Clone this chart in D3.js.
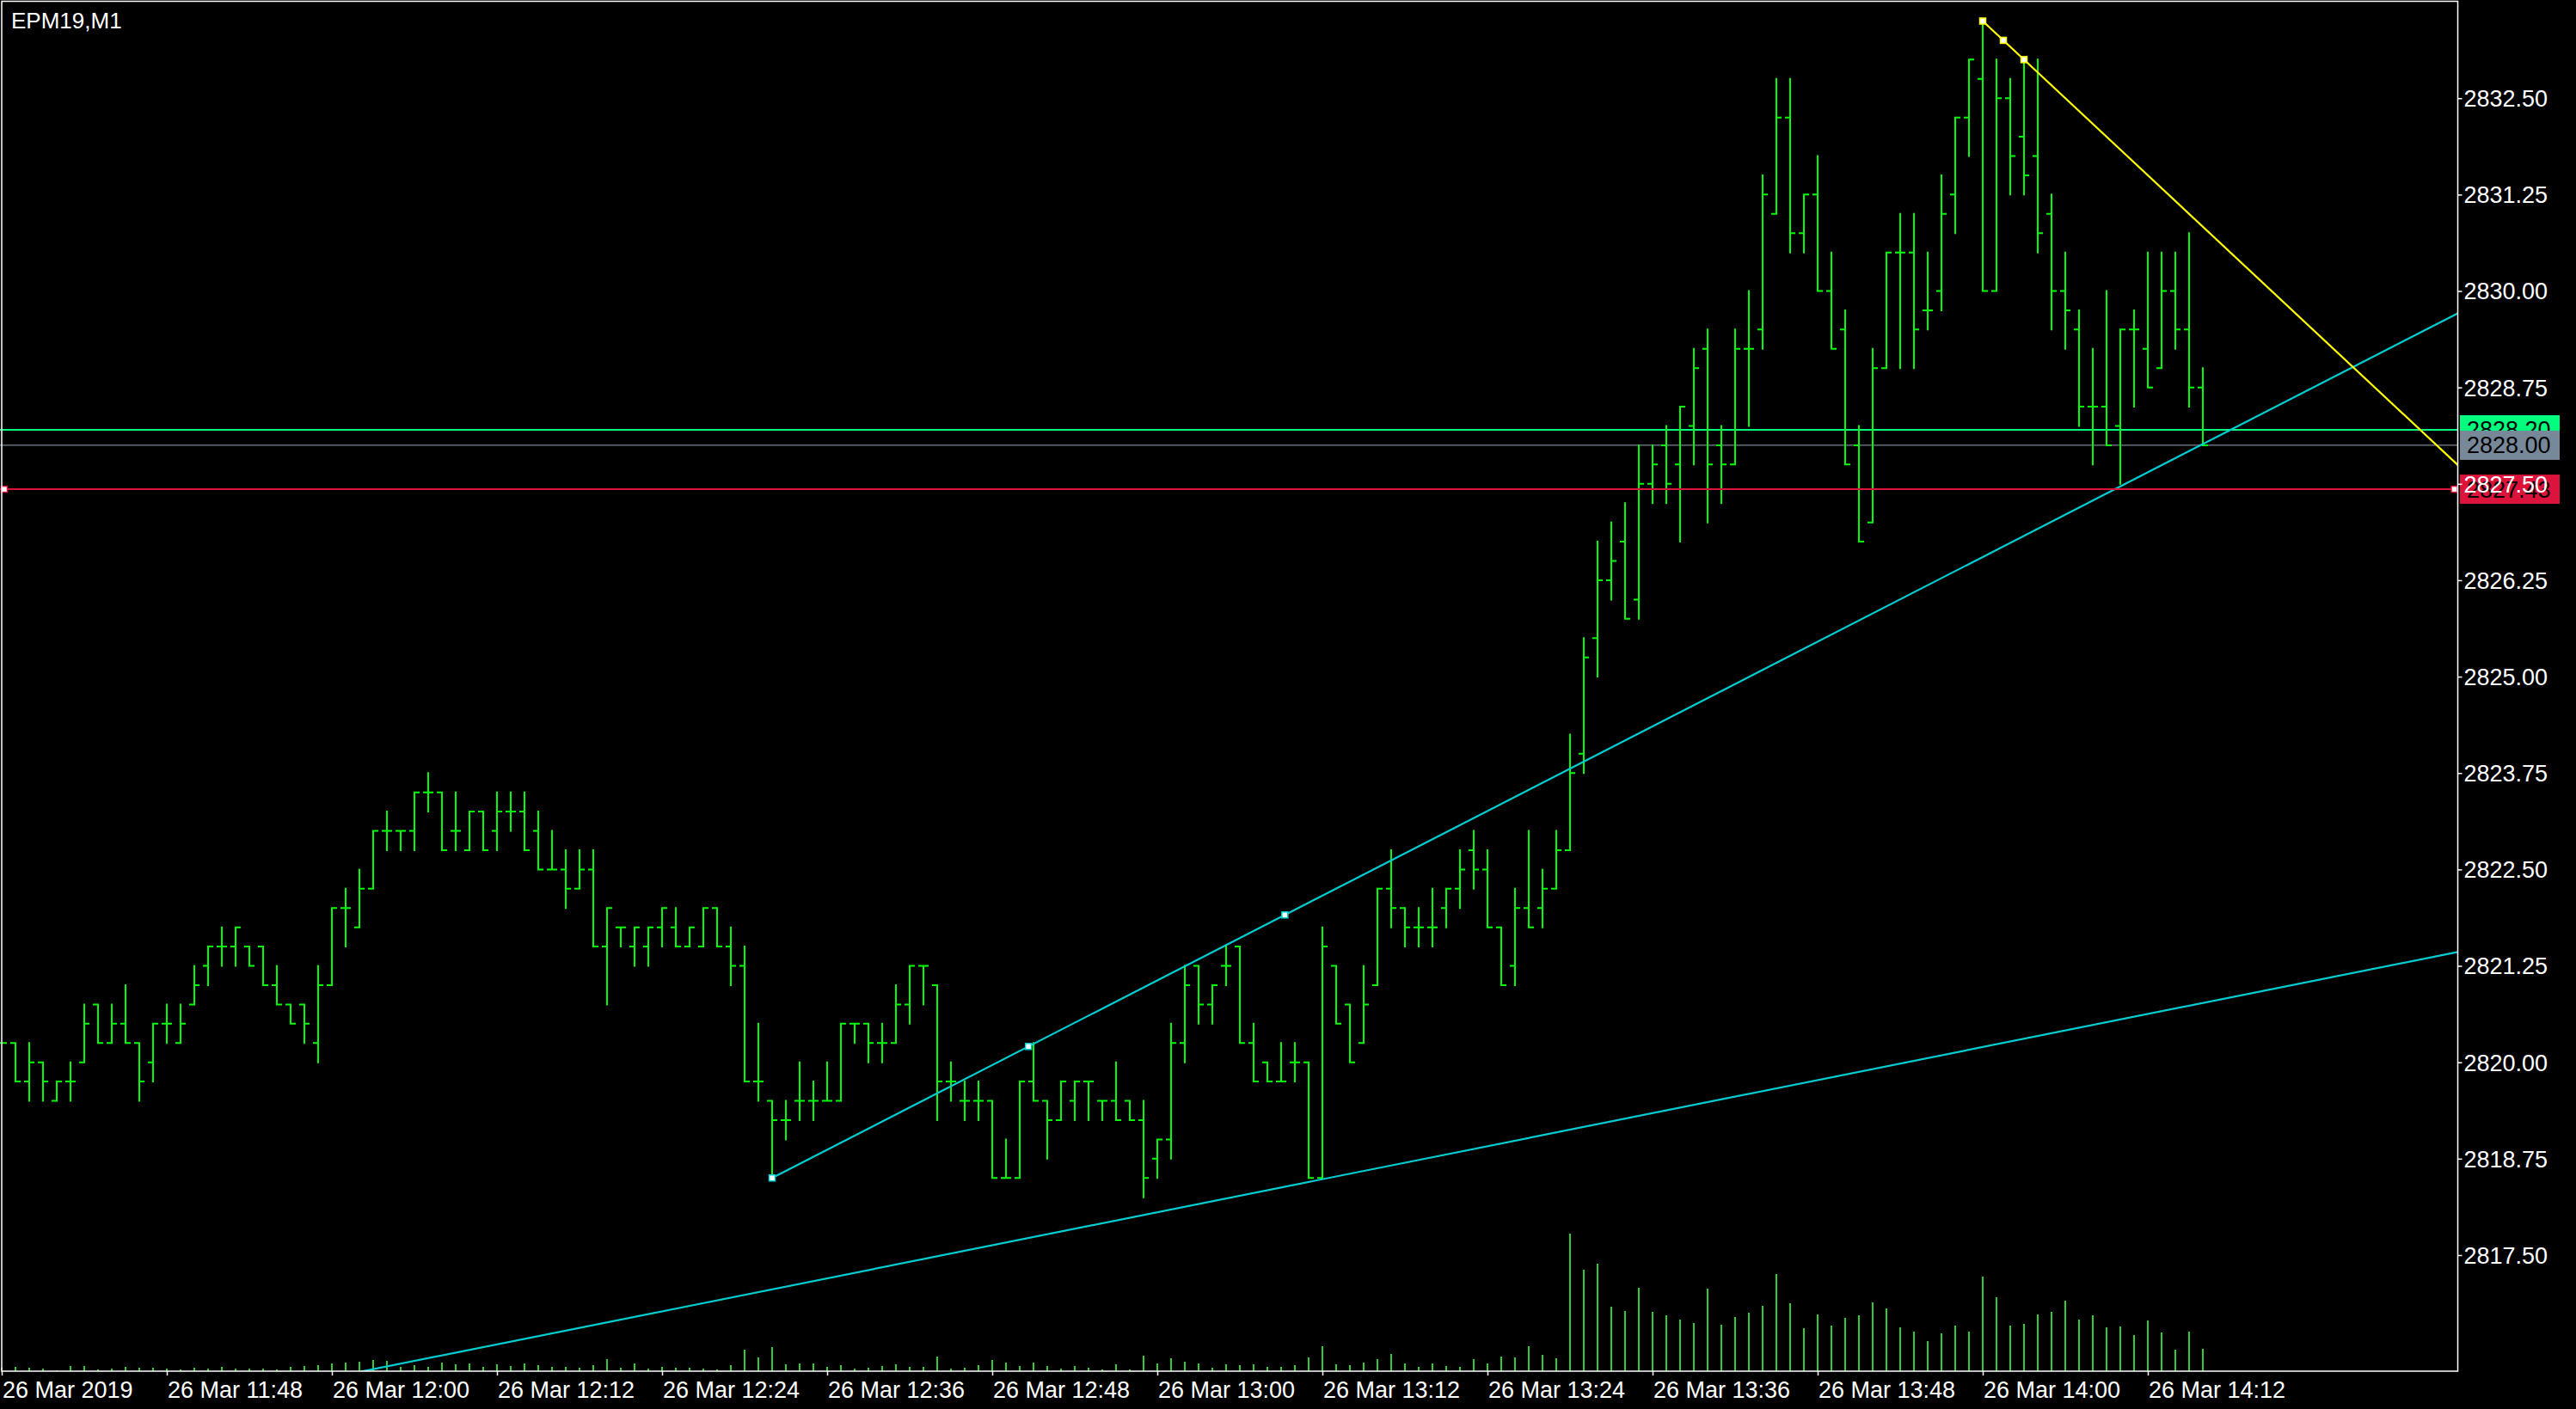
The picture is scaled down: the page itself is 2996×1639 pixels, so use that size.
<!DOCTYPE html>
<html>
<head>
<meta charset="utf-8">
<script src="https://cdn.jsdelivr.net/npm/d3@7"></script>
<style>
html,body{margin:0;padding:0;background:#000;overflow:hidden}
svg{display:block}
</style>
</head>
<body>
<svg id="chart" width="2996" height="1639"></svg>
<script>
// ---------------- DATA ----------------
const chartTitle = "EPM19,M1";
// one bar per minute, bar 0 = 26 Mar 2019 11:36, bar 160 = 14:16
const barIndex = d3.range(161);

const openPrices = [
2820.25,2820.25,2819.75,2820,2819.5,2819.75,2820,2820.75,2820.25,2820.5,
2820.25,2820,2820.5,2820.25,2820.75,2821.25,2821.5,2821.5,2821.5,2821.5,
2821,2820.75,2820.75,2820.25,2821,2822,2821.75,2822.25,2823,2823,
2823,2823.5,2823.5,2823,2822.75,2823.25,2823,2823.25,2823.25,2823,
2822.5,2822.5,2822.25,2822.5,2821.5,2821.75,2821.5,2821.5,2821.75,2821.75,
2821.5,2821.5,2822,2821.5,2821.25,2819.75,2819.5,2819.25,2819.5,2819.5,
2819.5,2819.5,2820.5,2820.5,2820.25,2820.25,2820.75,2821.25,2821,2819.75,
2819.5,2819.5,2819.5,2818.5,2818.5,2819.75,2819.5,2819.25,2819.5,2819.75,
2819.5,2819.5,2819.5,2819.25,2818.75,2819,2820.25,2821.25,2820.75,2821.25,
2821.5,2820.25,2820,2819.75,2820,2820,2818.5,2821.25,2820.75,2820.25,
2821,2822.25,2822,2821.75,2821.75,2822,2822.25,2822.75,2822.5,2821.75,
2821.25,2822,2822,2822.25,2822.75,2824,2825.5,2826.25,2826.75,2826,
2827.5,2828,2827.75,2828.25,2829.25,2828,2827.75,2829.25,2829.5,2831,
2832.25,2830.75,2831.25,2830,2829.5,2828,2827,2829,2830.5,2830.5,
2829.75,2830,2831.25,2832.25,2832.75,2830,2832.5,2832,2831.75,2831,
2830,2829.5,2828.5,2828.5,2828.25,2829.5,2829.25,2829,2830,2829.5,
2828.75];

const highPrices = [
2820.25,2820.25,2820.25,2820,2819.75,2820,2820.75,2820.75,2820.75,2821,
2820.25,2820.5,2820.75,2820.75,2821.25,2821.5,2821.75,2821.75,2821.5,2821.5,
2821.25,2820.75,2820.75,2821.25,2822,2822.25,2822.5,2823,2823.25,2823,
2823.5,2823.75,2823.5,2823.5,2823.25,2823.25,2823.5,2823.5,2823.5,2823.25,
2823,2822.75,2822.75,2822.75,2822,2821.75,2821.75,2821.75,2822,2822,
2821.75,2822,2822,2821.75,2821.5,2820.5,2819.5,2819.5,2820,2819.75,
2820,2820.5,2820.5,2820.5,2820.5,2821,2821.25,2821.25,2821,2820,
2819.75,2819.75,2819.5,2819,2819.75,2820.25,2819.5,2819.75,2819.75,2819.75,
2819.5,2820,2819.5,2819.5,2819,2820.5,2821.25,2821.25,2821,2821.5,
2821.5,2820.5,2820,2820.25,2820.25,2820,2821.75,2821.25,2820.75,2821.25,
2822.25,2822.75,2822,2822,2822.25,2822.25,2822.75,2823,2822.75,2821.75,
2822.25,2823,2822.5,2823,2824.25,2825.5,2826.75,2827,2827.25,2828,
2828,2828.25,2828.5,2829.25,2829.5,2828.25,2829.5,2830,2831.5,2832.75,
2832.75,2831.25,2831.75,2830.5,2829.75,2828.25,2829.25,2830.5,2831,2831,
2830.5,2831.5,2832.25,2833,2833.5,2833,2832.75,2833,2833,2831.25,
2830.5,2829.75,2829.25,2830,2829.5,2829.75,2830.5,2830.5,2830.5,2830.75,
2829];

const lowPrices = [
2820.25,2819.75,2819.5,2819.5,2819.5,2819.5,2820,2820.25,2820.25,2820.25,
2819.5,2819.75,2820.25,2820.25,2820.75,2821,2821.25,2821.25,2821.25,2821,
2820.75,2820.5,2820.25,2820,2821,2821.5,2821.75,2822.25,2822.75,2822.75,
2822.75,2823.25,2822.75,2822.75,2822.75,2822.75,2822.75,2823,2822.75,2822.5,
2822.5,2822,2822.25,2821.5,2820.75,2821.5,2821.25,2821.25,2821.5,2821.5,
2821.5,2821.5,2821.5,2821,2819.75,2819.5,2818.5,2819,2819.25,2819.25,
2819.5,2819.5,2820.25,2820,2820,2820.25,2820.5,2820.75,2819.25,2819.5,
2819.25,2819.25,2818.5,2818.5,2818.5,2819.5,2818.75,2819.25,2819.25,2819.25,
2819.25,2819.25,2819.25,2818.25,2818.5,2818.75,2820,2820.5,2820.5,2821,
2820.25,2819.75,2819.75,2819.75,2819.75,2818.5,2818.5,2820.5,2820,2820.25,
2821,2821.75,2821.5,2821.5,2821.5,2821.75,2822,2822.25,2821.75,2821,
2821,2821.75,2821.75,2822.25,2822.75,2823.75,2825,2826,2825.75,2825.75,
2827.25,2827.25,2826.75,2827.75,2827,2827.25,2827.75,2828.25,2829.25,2831,
2830.5,2830.5,2830,2829.25,2827.75,2826.75,2827,2829,2829,2829,
2829.5,2829.75,2830.75,2831.75,2830,2830,2831.25,2831.25,2830.5,2829.5,
2829.25,2828.25,2827.75,2828,2827.5,2828.5,2828.75,2829,2829.25,2828.5,
2828];

const closePrices = [
2820.25,2819.75,2820,2819.75,2819.75,2819.75,2820.5,2820.25,2820.5,2820.25,
2819.75,2820.5,2820.5,2820.5,2821,2821.5,2821.5,2821.75,2821.25,2821,
2820.75,2820.5,2820.5,2821,2822,2822,2822.25,2823,2823,2823,
2823.5,2823.5,2822.75,2823,2823.25,2822.75,2823.25,2823.25,2822.75,2822.5,
2822.5,2822.25,2822.5,2821.5,2822,2821.75,2821.75,2821.75,2822,2821.5,
2821.75,2822,2821.5,2821.25,2819.75,2819.75,2819.25,2819.25,2819.5,2819.5,
2819.5,2820.5,2820.5,2820.25,2820.25,2820.75,2821.25,2821.25,2819.75,2819.75,
2819.5,2819.5,2818.5,2818.5,2819.75,2819.5,2819.25,2819.75,2819.75,2819.75,
2819.5,2819.25,2819.25,2818.5,2819,2820.25,2821,2820.75,2821,2821.25,
2820.25,2819.75,2819.75,2819.75,2820,2818.5,2821.5,2820.5,2820,2820.75,
2822.25,2822,2821.75,2821.75,2821.75,2822.25,2822.5,2822.5,2821.75,2821,
2822,2821.75,2822.25,2822.75,2823.75,2825.25,2826.25,2826.5,2825.75,2827.5,
2827.75,2827.5,2828.5,2829,2827.75,2827.75,2829.25,2829.25,2831.25,2832.25,
2830.75,2831.25,2830,2829.25,2827.75,2826.75,2829,2830.5,2830.5,2829.5,
2829.75,2831,2832.25,2833,2830,2832.5,2831.75,2831.5,2830.75,2830,
2829.75,2828.5,2828.5,2828,2829.5,2829.5,2828.75,2830,2829.5,2828.75,
2828];

const tickVolumes = [
4,5,4,3,1,6,6,2,3,5,
4,4,3,2,4,3,5,3,3,3,
2,5,6,7,9,10,11,13,12,5,
7,5,10,8,9,5,8,6,9,7,
5,5,4,7,14,4,9,3,5,4,
4,3,2,7,25,16,28,8,9,9,
5,7,3,4,6,8,5,5,17,3,
4,7,13,10,6,10,6,3,6,4,
2,8,2,18,9,15,11,9,4,8,
7,8,5,5,7,16,29,8,7,10,
14,20,9,5,9,6,5,14,9,17,
16,29,19,15,160,118,125,75,70,97,
69,65,60,56,96,54,63,68,76,113,
79,50,66,53,62,65,80,73,51,46,
35,44,53,46,110,86,53,55,66,69,
82,60,65,51,52,42,59,45,25,46,
26];

// time axis
const timeTickBars   = [0,12,24,36,48,60,72,84,96,108,120,132,144,156];
const timeTickLabels = ["26 Mar 2019","26 Mar 11:48","26 Mar 12:00","26 Mar 12:12","26 Mar 12:24",
  "26 Mar 12:36","26 Mar 12:48","26 Mar 13:00","26 Mar 13:12","26 Mar 13:24","26 Mar 13:36",
  "26 Mar 13:48","26 Mar 14:00","26 Mar 14:12"];
// price axis
const priceTicks = [2817.50,2818.75,2820.00,2821.25,2822.50,2823.75,2825.00,2826.25,2827.50,2828.75,2830.00,2831.25,2832.50];

// drawn objects: [barIndex, price] anchors
const trendUpper  = [[56, 2818.50], [93.27, 2821.91]];   // cyan, selected
const trendLower  = [[87.4, 2818.177], [115.5, 2819.18]]; // cyan
const trendDown   = [[144, 2833.50], [147, 2833.00]];     // yellow, selected
const hLineRed    = 2827.43;
const bidPrice    = 2828.00;
const greenPrice  = 2828.20;

// ---------------- LAYOUT ----------------
const W = 2996, H = 1639;
const plotRight = 2858.5, plotBottom = 1595;
const FONT = "'Liberation Sans', Arial, sans-serif";

const svg = d3.select("#chart");
svg.append("rect").attr("width", W).attr("height", H).attr("fill", "#000");

const x = d3.scaleLinear().domain([0, 160]).range([2, 2562]);
const y = d3.scaleLinear().domain([2815.995, 2833.773]).range([plotBottom, 0]);
const yVol = d3.scaleLinear().domain([0, 160]).range([plotBottom, plotBottom - 160]);

const defs = svg.append("defs");
defs.append("clipPath").attr("id", "plotClip")
  .append("rect").attr("x", 0).attr("y", 0).attr("width", plotRight).attr("height", plotBottom);

const plot = svg.append("g").attr("clip-path", "url(#plotClip)");

// volumes
plot.append("g").selectAll("line").data(barIndex).join("line")
  .attr("x1", i => x(i)).attr("x2", i => x(i))
  .attr("y1", yVol(0)).attr("y2", i => yVol(tickVolumes[i]))
  .attr("stroke", "#32cd32").attr("stroke-width", 2);

// bid & green price lines
plot.append("line").attr("x1", 0).attr("x2", plotRight)
  .attr("y1", y(bidPrice)).attr("y2", y(bidPrice))
  .attr("stroke", "#778899").attr("stroke-width", 1.2);
plot.append("line").attr("x1", 0).attr("x2", plotRight)
  .attr("y1", y(greenPrice)).attr("y2", y(greenPrice))
  .attr("stroke", "#00ff7f").attr("stroke-width", 2);

// OHLC bars
plot.append("g").selectAll("path").data(barIndex).join("path")
  .attr("d", i => {
    const cx = x(i);
    return `M${cx},${y(highPrices[i]) - 1}V${y(lowPrices[i]) + 1}` +
           `M${cx - 6},${y(openPrices[i])}H${cx}` +
           `M${cx},${y(closePrices[i])}H${cx + 6}`;
  })
  .attr("fill", "none").attr("stroke", "#00ff00").attr("stroke-width", 2);

// trend line helper: extend from first anchor to right edge
function lineThrough(a, b, fromX) {
  const slope = (b[1] - a[1]) / (b[0] - a[0]);
  const endBar = x.invert(plotRight);
  const startBar = fromX === undefined ? a[0] : x.invert(fromX);
  return [[startBar, a[1] + slope * (startBar - a[0])], [endBar, a[1] + slope * (endBar - a[0])]];
}
function drawLine(pts, color) {
  plot.append("line")
    .attr("x1", x(pts[0][0])).attr("y1", y(pts[0][1]))
    .attr("x2", x(pts[1][0])).attr("y2", y(pts[1][1]))
    .attr("stroke", color).attr("stroke-width", 2.2);
}
function drawAnchors(a, b, color) {
  const mid = [(a[0] + b[0]) / 2, (a[1] + b[1]) / 2];
  plot.append("g").selectAll("rect").data([a, mid, b]).join("rect")
    .attr("x", d => x(d[0]) - 3.5).attr("y", d => y(d[1]) - 3.5)
    .attr("width", 7).attr("height", 7)
    .attr("fill", "#fff").attr("stroke", color).attr("stroke-width", 1.5);
}

drawLine(lineThrough(trendLower[0], trendLower[1], 0), "#00ced1");
drawLine(lineThrough(trendUpper[0], trendUpper[1]), "#00ced1");
drawLine(lineThrough(trendDown[0], trendDown[1]), "#ffff00");

// red horizontal line
plot.append("line").attr("x1", 0).attr("x2", plotRight)
  .attr("y1", y(hLineRed)).attr("y2", y(hLineRed))
  .attr("stroke", "#dc143c").attr("stroke-width", 2);
plot.append("g").selectAll("rect").data([5, plotRight - 4]).join("rect")
  .attr("x", d => d - 3.5).attr("y", y(hLineRed) - 3.5).attr("width", 7).attr("height", 7)
  .attr("fill", "#fff").attr("stroke", "#dc143c").attr("stroke-width", 1.5);

drawAnchors(trendUpper[0], trendUpper[1], "#00ced1");
drawAnchors(trendDown[0], trendDown[1], "#ffff00");

// frame
svg.append("rect").attr("x", 2).attr("y", 1.5)
  .attr("width", plotRight - 2).attr("height", plotBottom - 1.5)
  .attr("fill", "none").attr("stroke", "#fff").attr("stroke-width", 1.5);

// title
svg.append("text").attr("x", 13).attr("y", 33)
  .attr("fill", "#fff").attr("font-family", FONT).attr("font-size", 26)
  .text(chartTitle);

// price label boxes
function priceBox(price, fill, label) {
  const g = svg.append("g");
  g.append("rect").attr("x", 2861).attr("y", y(price) - 17).attr("width", 116).attr("height", 34).attr("fill", fill);
  g.append("text").attr("x", 2869).attr("y", y(price)).attr("dy", "0.35em")
    .attr("fill", "#000").attr("font-family", FONT).attr("font-size", 27).text(label);
}
priceBox(greenPrice, "#00ff7f", d3.format(".2f")(greenPrice));
priceBox(bidPrice, "#778899", d3.format(".2f")(bidPrice));
priceBox(hLineRed, "#dc143c", d3.format(".2f")(hLineRed));

// price axis
const yAxis = d3.axisRight(y).tickValues(priceTicks).tickFormat(d3.format(".2f"))
  .tickSize(5).tickPadding(2);
const gy = svg.append("g").attr("transform", `translate(${plotRight},0)`).call(yAxis);
gy.select(".domain").remove();
gy.selectAll(".tick line").attr("stroke", "#fff").attr("stroke-width", 1.5);
gy.selectAll(".tick text").attr("fill", "#fff").attr("font-family", FONT).attr("font-size", 27)
  .attr("dy", "0.35em");

// time axis
const xAxis = d3.axisBottom(x).tickValues(timeTickBars)
  .tickFormat((d, i) => timeTickLabels[i]).tickSize(5).tickPadding(7);
const gx = svg.append("g").attr("transform", `translate(0,${plotBottom})`).call(xAxis);
gx.select(".domain").remove();
gx.selectAll(".tick line").attr("stroke", "#fff").attr("stroke-width", 1.5);
gx.selectAll(".tick text").attr("fill", "#fff").attr("font-family", FONT).attr("font-size", 27)
  .attr("text-anchor", "start").attr("x", 0.5);
</script>
</body>
</html>
